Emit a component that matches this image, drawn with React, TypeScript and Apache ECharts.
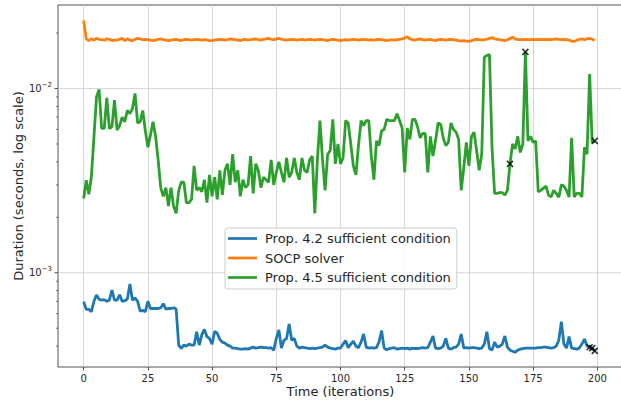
import React, { useEffect, useRef } from "react";
import * as echarts from "echarts";

const X_MIN = -10;
const X_MAX = 210;
const Y_MIN = 0.000308;
const Y_MAX = 0.0284;

const xTicks = [0, 25, 50, 75, 100, 125, 150, 175, 200];
const yMajorTicks = [0.001, 0.01];
const yMinorTicks = [0.0004, 0.0005, 0.0006, 0.0007, 0.0008, 0.0009, 0.002, 0.003, 0.004, 0.005, 0.006, 0.007, 0.008, 0.009, 0.02];

const xTitle = "Time (iterations)";
const yTitle = "Duration (seconds, log scale)";
const seriesNames = ["Prop. 4.2 sufficient condition", "SOCP solver", "Prop. 4.5 sufficient condition"];

const prop42 = [
  0.000697, 0.000633, 0.000633, 0.000615, 0.0007, 0.000757, 0.000717, 0.00071, 0.000715, 0.0007,
  0.00071, 0.000806, 0.00071, 0.00071, 0.00076, 0.0007, 0.000705, 0.00072, 0.000869, 0.00071,
  0.00073, 0.0007, 0.00062, 0.000625, 0.000615, 0.0007, 0.00064, 0.00064, 0.00064, 0.00064,
  0.000645, 0.00068, 0.000635, 0.00064, 0.00064, 0.000645, 0.000635, 0.000405, 0.000389, 0.000405,
  0.0004, 0.00041, 0.000405, 0.000405, 0.000479, 0.000405, 0.00046, 0.000493, 0.00045, 0.00044,
  0.00041, 0.00048, 0.00047, 0.000435, 0.00042, 0.000415, 0.000405, 0.0004, 0.00039, 0.00039,
  0.000387, 0.000385, 0.000385, 0.000387, 0.000385, 0.00039, 0.000395, 0.00039, 0.000392, 0.000395,
  0.000393, 0.000392, 0.00039, 0.000392, 0.00038, 0.00044, 0.00049, 0.00039, 0.00043, 0.00044,
  0.000527, 0.00043, 0.00044, 0.0004, 0.00039, 0.000395, 0.000392, 0.00039, 0.000388, 0.00039,
  0.000388, 0.00039, 0.000392, 0.000395, 0.000405, 0.000395, 0.00039, 0.000388, 0.000385, 0.00039,
  0.00039, 0.00041, 0.000428, 0.000392, 0.00041, 0.000425, 0.0004, 0.000392, 0.00042, 0.000465,
  0.000395, 0.00039, 0.000392, 0.00039, 0.000392, 0.00042, 0.000485, 0.00039, 0.000382, 0.000388,
  0.00039, 0.000392, 0.000385, 0.000388, 0.00039, 0.000388, 0.00039, 0.000385, 0.00039, 0.000388,
  0.000388, 0.00039, 0.000392, 0.00039, 0.000392, 0.00042, 0.000454, 0.00039, 0.000388, 0.00039,
  0.0004, 0.00044, 0.00039, 0.000385, 0.000392, 0.000395, 0.00041, 0.000465, 0.00039, 0.000392,
  0.00039, 0.000392, 0.000392, 0.00039, 0.000388, 0.00039, 0.00041, 0.000478, 0.000388, 0.00038,
  0.00042, 0.000395, 0.0004, 0.00041, 0.000454, 0.000395, 0.00038, 0.000375, 0.00037, 0.00038,
  0.000385, 0.000388, 0.00039, 0.00039, 0.00039, 0.00039, 0.00039, 0.000392, 0.000392, 0.000395,
  0.000395, 0.000392, 0.00039, 0.000392, 0.0004, 0.00043, 0.000543, 0.00041, 0.00039, 0.00045,
  0.00039, 0.000388, 0.000385, 0.00039, 0.00041, 0.000437, 0.0004, 0.000394, 0.00039, 0.000377,
];

const socp = [
  0.0234, 0.0186, 0.0182, 0.0186, 0.0183, 0.0187, 0.0185, 0.0184, 0.0183, 0.0186,
  0.0185, 0.0182, 0.0183, 0.0183, 0.0185, 0.0187, 0.0182, 0.0186, 0.0183, 0.0182,
  0.0185, 0.0187, 0.0186, 0.0184, 0.0185, 0.0184, 0.0183, 0.0182, 0.0183, 0.0185,
  0.0186, 0.0184, 0.0183, 0.0182, 0.0183, 0.0184, 0.0185, 0.0183, 0.0182, 0.0184,
  0.0185, 0.0184, 0.0183, 0.0184, 0.0185, 0.0184, 0.0183, 0.0184, 0.0183, 0.0182,
  0.0182, 0.0183, 0.0184, 0.0185, 0.0184, 0.0183, 0.0184, 0.0186, 0.0185, 0.0184,
  0.0183, 0.0182, 0.0184, 0.0185, 0.0183, 0.0184, 0.0185, 0.0186, 0.0184, 0.0183,
  0.0185, 0.0186, 0.0187, 0.0185, 0.0184, 0.0186, 0.0187, 0.0185, 0.0184, 0.0183,
  0.0184, 0.0185, 0.0184, 0.0183, 0.0184, 0.0185, 0.0183, 0.0184, 0.0185, 0.0184,
  0.0183, 0.0184, 0.0185, 0.0184, 0.0183, 0.0182, 0.0184, 0.0185, 0.0184, 0.0183,
  0.0182, 0.0183, 0.0184, 0.0183, 0.0184, 0.0185, 0.0184, 0.0183, 0.0184, 0.0185,
  0.0184, 0.0183, 0.0184, 0.0183, 0.0184, 0.0185, 0.0184, 0.0183, 0.0182, 0.0183,
  0.0184, 0.0183, 0.0184, 0.0185, 0.0186, 0.0188, 0.0191, 0.0186, 0.0184, 0.0183,
  0.0185, 0.0186, 0.0184, 0.0183, 0.0184, 0.0185, 0.0183, 0.0182, 0.0184, 0.0185,
  0.0184, 0.0183, 0.0184, 0.0185, 0.0184, 0.0183, 0.0182, 0.0181, 0.0182, 0.0181,
  0.018, 0.0182, 0.0184, 0.0185, 0.0184, 0.0183, 0.0184, 0.0185, 0.0187, 0.0189,
  0.0186, 0.0185, 0.0184, 0.0183, 0.0182, 0.0184, 0.0187, 0.019, 0.0186, 0.0184,
  0.0185, 0.0184, 0.0185, 0.0184, 0.0184, 0.0185, 0.0184, 0.0185, 0.0184, 0.0185,
  0.0184, 0.0185, 0.0184, 0.0185, 0.0186, 0.0185, 0.0184, 0.0185, 0.0184, 0.0183,
  0.0181, 0.018, 0.0183, 0.0185, 0.0186, 0.0184, 0.0186, 0.0187, 0.0185, 0.0182,
];

const prop45 = [
  0.00253, 0.00318, 0.00267, 0.00332, 0.00547, 0.009, 0.0099, 0.00607, 0.00607, 0.0089,
  0.00607, 0.0062, 0.00865, 0.00594, 0.0063, 0.007, 0.0066, 0.0076, 0.0073, 0.0078,
  0.0094, 0.0065, 0.0066, 0.0076, 0.0059, 0.0048, 0.0056, 0.0066, 0.0055, 0.0041,
  0.0029, 0.0026, 0.0029, 0.0023, 0.0029, 0.0023, 0.0021, 0.0028, 0.0031, 0.0031,
  0.0024, 0.0024, 0.0025, 0.0038, 0.0028, 0.0029, 0.00275, 0.0032, 0.0024, 0.0034,
  0.0026, 0.0033, 0.0025, 0.0036, 0.00265, 0.0036, 0.0039, 0.003, 0.0044, 0.0031,
  0.0036, 0.0026, 0.0032, 0.0029, 0.003, 0.0043, 0.0027, 0.0039, 0.0036, 0.0029,
  0.0033, 0.0032, 0.0031, 0.0041, 0.003, 0.0035, 0.004, 0.0035, 0.0031, 0.0042,
  0.0033, 0.0035, 0.0042, 0.0035, 0.0032, 0.0042, 0.0036, 0.0035, 0.0041, 0.0043,
  0.0021, 0.0041, 0.0067, 0.0041, 0.0028, 0.0044, 0.0046, 0.0068, 0.0039, 0.005,
  0.0039, 0.0042, 0.0067, 0.0065, 0.005, 0.0038, 0.0034, 0.0049, 0.0067, 0.0063,
  0.0067, 0.0067, 0.0043, 0.0032, 0.0052, 0.0049, 0.0059, 0.006, 0.0068, 0.0067,
  0.0067, 0.0067, 0.0073, 0.0067, 0.0061, 0.0035, 0.0061, 0.0053, 0.0068, 0.0068,
  0.0062, 0.0054, 0.0057, 0.0057, 0.0035, 0.0055, 0.0043, 0.0052, 0.0065, 0.0064,
  0.0054, 0.0049, 0.0051, 0.0065, 0.006, 0.0058, 0.0053, 0.0028, 0.0037, 0.0051,
  0.0038, 0.0055, 0.0058, 0.0046, 0.0036, 0.0044, 0.0148, 0.0151, 0.0153, 0.0048,
  0.0027, 0.0027, 0.00272, 0.00272, 0.00264, 0.0028, 0.0039, 0.005, 0.0047, 0.0055,
  0.0045, 0.005, 0.0158, 0.0052, 0.0055, 0.0051, 0.0052, 0.00275, 0.0028, 0.00288,
  0.00295, 0.00264, 0.00258, 0.0028, 0.0027, 0.00257, 0.003, 0.00295, 0.0028, 0.00258,
  0.0054, 0.00258, 0.0027, 0.0027, 0.00258, 0.0048, 0.0044, 0.012, 0.0051, 0.0052,
];

const prop42Marks = [197, 198, 199];
const prop45Marks = [166, 172, 199];

const COLORS = ["#1f77b4", "#ff7f0e", "#2ca02c"];
const INK = "#262626";
const GRIDC = "#cbcbcb";
const FONT = "DejaVu Sans";

function pairs(values: number[]) {
  return values.map((v, i) => [i, v]);
}

export default function App() {
  const ref = useRef<HTMLDivElement>(null);
  useEffect(() => {
    document.body.style.margin = "0";
    const chart = echarts.init(ref.current!, undefined, { renderer: "svg" });
    const tickData = [
      ...yMajorTicks.map((v) => [X_MIN, v, 1]),
      ...yMinorTicks.map((v) => [X_MIN, v, 0]),
    ];
    const markData = [
      ...prop42Marks.map((i) => [i, prop42[i]]),
      ...prop45Marks.map((i) => [i, prop45[i]]),
    ];
    chart.setOption({
      animation: false,
      textStyle: { fontFamily: FONT },
      grid: {
        left: 58,
        top: 5,
        right: -2,
        bottom: 33,
        containLabel: false,
        outerBoundsMode: "none",
        show: true,
        borderColor: INK,
        borderWidth: 0.8,
        backgroundColor: "transparent",
      },
      graphic: [
        {
          type: "text",
          x: 18,
          y: 186,
          rotation: Math.PI / 2,
          silent: true,
          style: {
            text: yTitle,
            fontFamily: FONT,
            fontSize: 13,
            fill: INK,
            align: "center",
            verticalAlign: "middle",
          },
        },
      ],
      legend: {
        data: seriesNames,
        orient: "vertical",
        left: 225,
        top: 228,
        icon: "rect",
        itemWidth: 29,
        itemHeight: 2.7,
        itemGap: 6.5,
        padding: [4, 6, 5, 3],
        borderColor: "#cccccc",
        borderWidth: 1,
        borderRadius: 3,
        backgroundColor: "rgba(255,255,255,0.8)",
        textStyle: { fontFamily: FONT, fontSize: 13, color: INK, padding: [0, 0, 0, 3] },
      },
      xAxis: {
        type: "value",
        min: X_MIN,
        max: X_MAX,
        name: xTitle,
        nameLocation: "middle",
        nameGap: 18,
        nameMoveOverlap: false,
        nameTextStyle: { fontFamily: FONT, fontSize: 13, color: INK, verticalAlign: "top" },
        axisLine: { show: false },
        axisTick: { show: true, length: 3.5, customValues: xTicks, lineStyle: { color: INK, width: 0.8 } },
        axisLabel: { customValues: xTicks, fontFamily: FONT, fontSize: 10, color: INK, margin: 6 },
        splitLine: { show: true, lineStyle: { color: GRIDC, width: 0.8 } },
      },
      yAxis: {
        type: "log",
        min: Y_MIN,
        max: Y_MAX,
        axisLine: { show: false },
        axisTick: { show: false },
        splitLine: { show: false },
        axisLabel: {
          margin: 6,
          color: INK,
          formatter: (v: number) => {
            const e = Math.log10(v);
            const r = Math.round(e);
            if (Math.abs(e - r) > 1e-6) return "";
            return "{b|10}{s|\u2212" + Math.abs(r) + "}";
          },
          rich: {
            b: { fontFamily: FONT, fontSize: 10, color: INK },
            s: { fontFamily: FONT, fontSize: 7, color: INK, padding: [0, 0, 7, 0] },
          },
        },
      },
      series: [
        {
          type: "custom",
          name: "yticks",
          clip: false,
          silent: true,
          z: 1,
          data: tickData,
          renderItem: (params: any, api: any) => {
            const v = api.value(1);
            const major = api.value(2) === 1;
            const p = api.coord([X_MIN, v]);
            const q = api.coord([X_MAX, v]);
            const children: any[] = [
              {
                type: "line",
                shape: { x1: p[0] - (major ? 3.5 : 2), y1: p[1], x2: p[0], y2: p[1] },
                style: { stroke: INK, lineWidth: major ? 0.8 : 0.6 },
              },
            ];
            if (major) {
              children.push({
                type: "line",
                shape: { x1: p[0], y1: p[1], x2: q[0], y2: q[1] },
                style: { stroke: GRIDC, lineWidth: 0.8 },
              });
            }
            return { type: "group", children };
          },
        },
        {
          type: "line",
          name: seriesNames[0],
          data: pairs(prop42),
          symbol: "none",
          z: 3,
          lineStyle: { color: COLORS[0], width: 2.8 },
          itemStyle: { color: COLORS[0] },
        },
        {
          type: "line",
          name: seriesNames[1],
          data: pairs(socp),
          symbol: "none",
          z: 3,
          lineStyle: { color: COLORS[1], width: 2.8 },
          itemStyle: { color: COLORS[1] },
        },
        {
          type: "line",
          name: seriesNames[2],
          data: pairs(prop45),
          symbol: "none",
          z: 3,
          lineStyle: { color: COLORS[2], width: 2.8 },
          itemStyle: { color: COLORS[2] },
        },
        {
          type: "scatter",
          name: "marks",
          data: markData,
          symbol: "path://M0,0L10,10M10,0L0,10",
          symbolSize: 6,
          z: 4,
          silent: true,
          itemStyle: { color: "none", borderColor: "#000", borderWidth: 1.6 },
        },
      ],
    });
    return () => chart.dispose();
  }, []);
  return <div ref={ref} style={{ width: 621, height: 400 }} />;
}
